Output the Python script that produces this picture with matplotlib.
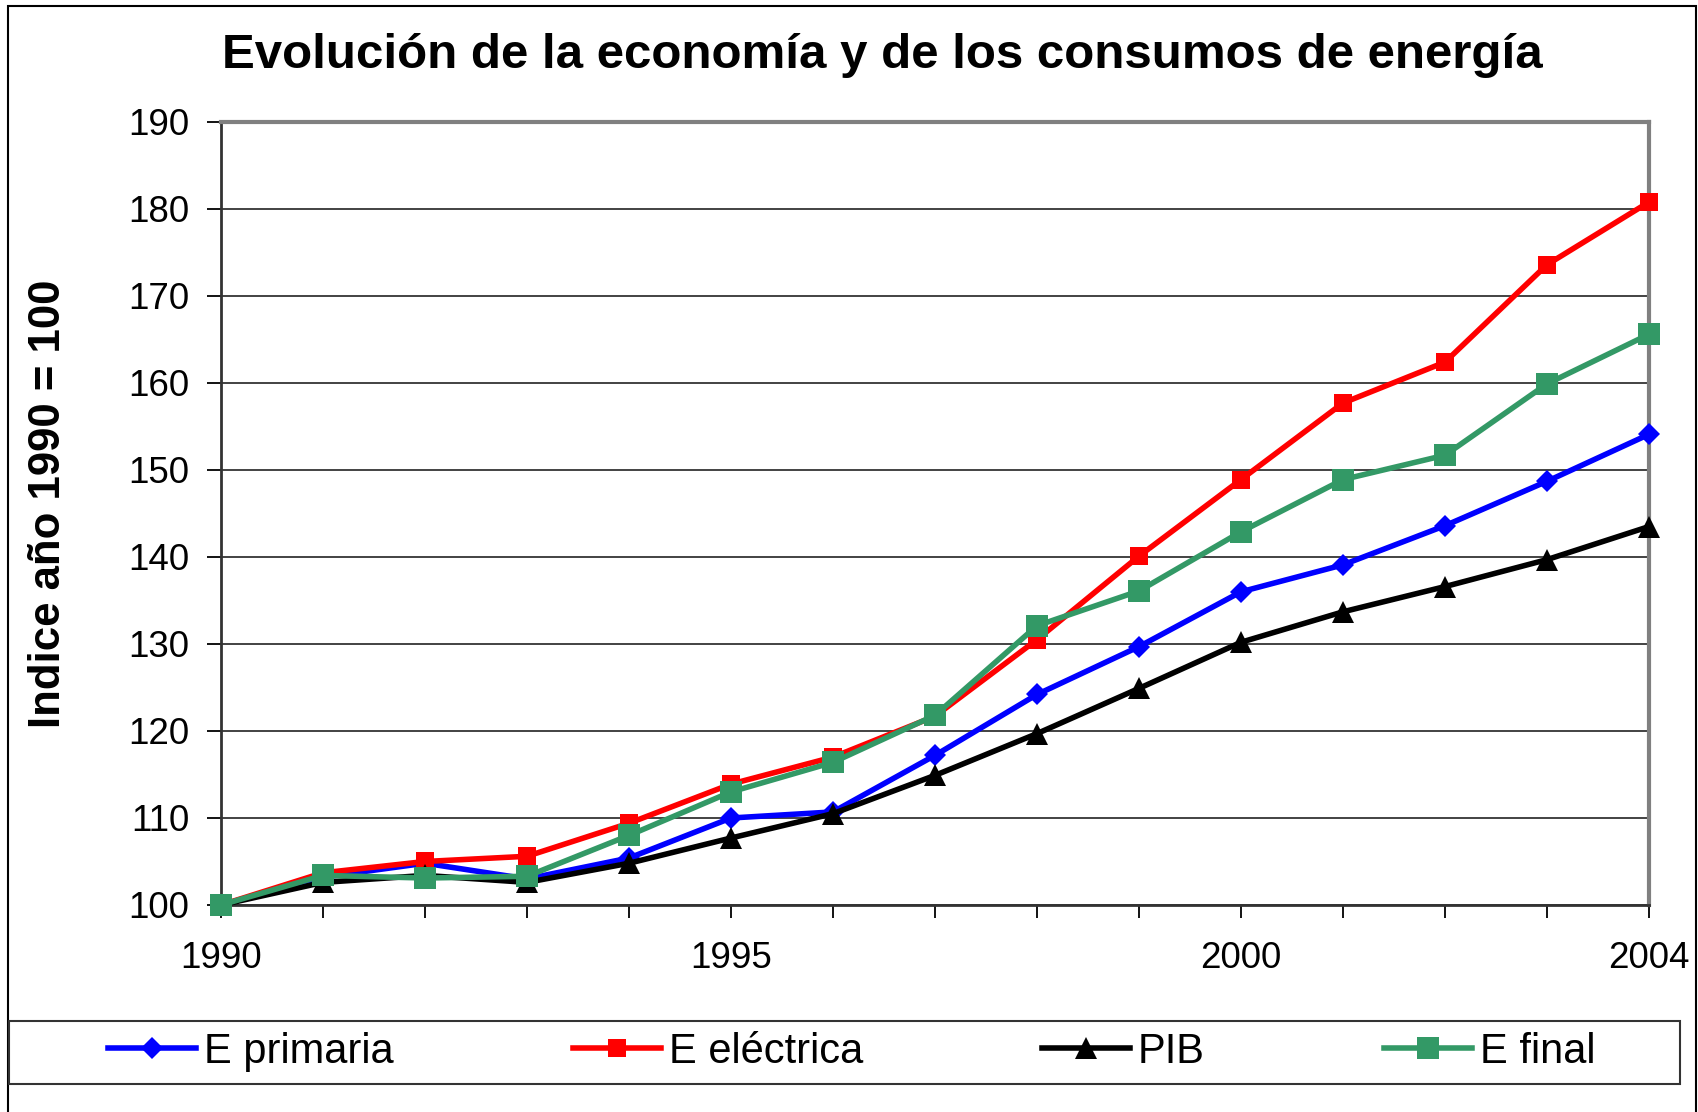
import numpy as np
import matplotlib
matplotlib.use('Agg')
import matplotlib.pyplot as plt
from matplotlib.patches import Rectangle

plt.rcParams['font.family'] = ['Liberation Sans', 'DejaVu Sans']

# data (index, 1990 = 100)
years = list(range(1990, 2005))
e_primaria = [100, 103.2, 104.8, 103.0, 105.4, 110.0, 110.7, 117.2, 124.2, 129.7, 136.0, 139.1, 143.6, 148.7, 154.1]
e_electrica = [100, 103.7, 105.0, 105.6, 109.4, 113.9, 117.0, 121.7, 130.5, 140.1, 148.9, 157.7, 162.4, 173.6, 180.8]
pib = [100, 102.6, 103.4, 102.6, 104.8, 107.7, 110.5, 114.9, 119.7, 124.9, 130.2, 133.7, 136.6, 139.7, 143.5]
e_final = [100, 103.4, 103.1, 103.3, 108.0, 113.0, 116.4, 121.8, 132.1, 136.1, 142.9, 148.9, 151.7, 159.9, 165.6]
labelled_years = [1990, 1995, 2000, 2004]
y_ticks = list(range(100, 191, 10))

W, H = 1699, 1112
fig = plt.figure(figsize=(W / 100, H / 100), dpi=100)
fig.patch.set_facecolor('white')

# plot area in pixels: left 221, right 1649, top 122, bottom 905
ax = fig.add_axes([221 / W, 1 - 905 / H, (1649 - 221) / W, (905 - 122) / H])

ax.plot(years, e_primaria, color='#0000FF', lw=4, marker='D', ms=11, mew=0, label='E primaria', clip_on=False, zorder=3)
ax.plot(years, e_electrica, color='#FF0000', lw=4, marker='s', ms=13.5, mew=0, label='E eléctrica', clip_on=False, zorder=4)
ax.plot(years, pib, color='black', lw=4, marker='^', ms=16, mew=0, label='PIB', clip_on=False, zorder=5)
ax.plot(years, e_final, color='#339966', lw=4, marker='s', ms=15.5, mew=0, label='E final', clip_on=False, zorder=6)

ax.set_xlim(1990, 2004)
ax.set_ylim(100, 190)
ax.set_yticks(y_ticks)
ax.set_xticks(years)
ax.set_xticklabels([str(y) if y in labelled_years else '' for y in years])

ax.grid(axis='y', color='#222222', lw=1.2, zorder=1)
ax.set_axisbelow(True)

# Excel style: dark axis lines, grey plot-area border
ax.spines['left'].set_color('#333333')
ax.spines['bottom'].set_color('#333333')
ax.spines['left'].set_linewidth(2)
ax.spines['bottom'].set_linewidth(2)
ax.spines['top'].set_color('#808080')
ax.spines['right'].set_color('#808080')
ax.spines['top'].set_linewidth(3)
ax.spines['right'].set_linewidth(3)

ax.tick_params(axis='y', direction='out', length=10, width=1.3, pad=13, labelsize=26.5)
ax.tick_params(axis='x', direction='out', length=9, width=1.3, pad=17, labelsize=26.5)

fig.text(882 / W, 1 - 68 / H, 'Evolución de la economía y de los consumos de energía',
         ha='center', va='baseline', fontsize=35.5, fontweight='bold')
fig.text(49 / W, 1 - 504 / H, 'Indice año 1990 = 100', rotation=90,
         ha='center', va='center', fontsize=31.5, fontweight='bold')

# outer chart frame and legend box
fig.patches.append(Rectangle((8 / W, -0.02), (1696 - 8) / W, (H - 6) / H + 0.02,
                             transform=fig.transFigure, fill=False, edgecolor='black', lw=1.5))
fig.patches.append(Rectangle((9 / W, 1 - 1084 / H), (1680 - 9) / W, (1084 - 1021) / H,
                             transform=fig.transFigure, fill=False, edgecolor='#333333', lw=1.5))

ax.legend(loc='center', bbox_to_anchor=(852 / W, 1 - 1052 / H), bbox_transform=fig.transFigure,
          ncol=4, frameon=False, fontsize=30, handlelength=2.1, handletextpad=0.2,
          columnspacing=4.3, borderpad=0)

fig.savefig('out.png', dpi=100)
